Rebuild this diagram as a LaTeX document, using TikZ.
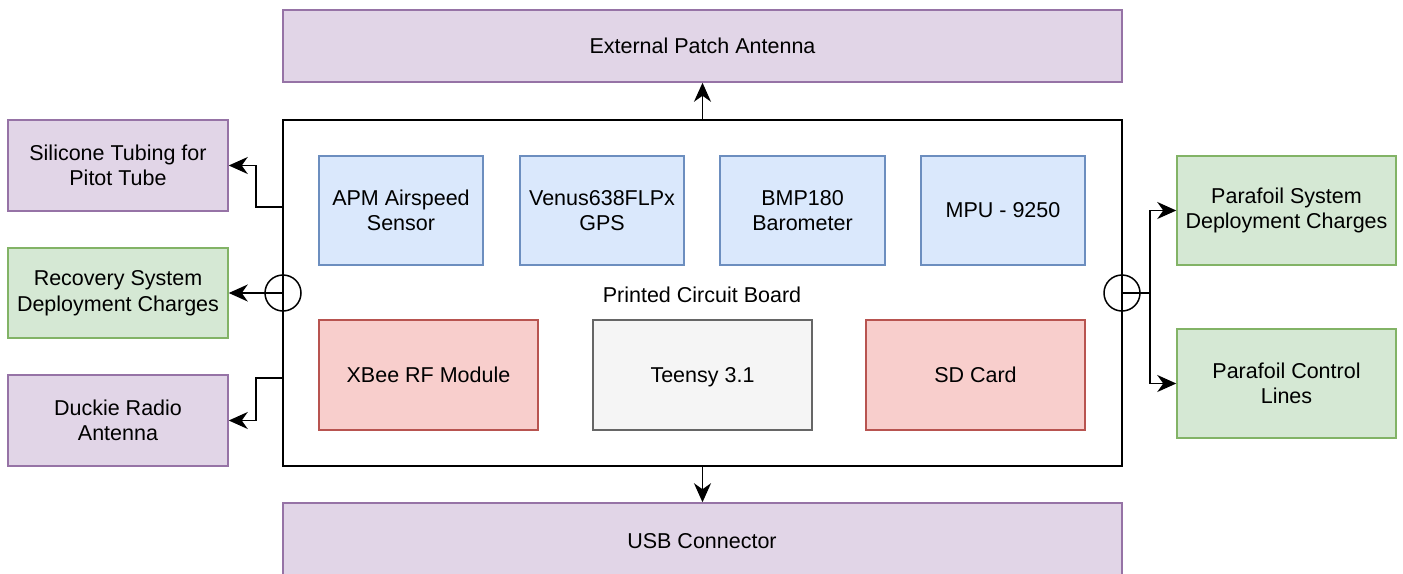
\documentclass[tikz,border=0pt]{standalone}
\usepackage{fontspec}
\setmainfont{Liberation Sans}
\usetikzlibrary{arrows.meta}
\definecolor{pfill}{HTML}{E1D5E7}\definecolor{pdraw}{HTML}{9673A6}
\definecolor{gfill}{HTML}{D5E8D4}\definecolor{gdraw}{HTML}{82B366}
\definecolor{bfill}{HTML}{DAE8FC}\definecolor{bdraw}{HTML}{6C8EBF}
\definecolor{rfill}{HTML}{F8CECC}\definecolor{rdraw}{HTML}{B85450}
\definecolor{kfill}{HTML}{F5F5F5}\definecolor{kdraw}{HTML}{666666}
\begin{document}
\begin{tikzpicture}[x=1pt,y=-1pt,
  txt/.style={font=\fontsize{21.5}{25.5}\selectfont, text=black},
  box/.style={draw, line width=1.5pt, align=center, inner sep=0pt, txt},
  pbox/.style={box, fill=pfill, draw=pdraw},
  gbox/.style={box, fill=gfill, draw=gdraw},
  bbox/.style={box, fill=bfill, draw=bdraw},
  rbox/.style={box, fill=rfill, draw=rdraw},
  kbox/.style={box, fill=kfill, draw=kdraw},
  conn/.style={draw, line width=1.6pt, -{Stealth[length=19pt,width=17pt,inset=6pt]}},
  ring/.style={circle, draw, line width=1.5pt, minimum size=36pt, inner sep=0pt}]
\clip (0,0) rectangle (1403,573);
\fill[white] (0,0) rectangle (1403,573);
% PCB
\node[box, fill=white, draw=black, minimum width=839pt, minimum height=346pt] (pcb) at (702.5,293) {};
\node[txt] (pcblabel) at (702,295) {Printed Circuit Board};
% top and bottom
\node[pbox, minimum width=839pt, minimum height=72pt] (ext) at (702.5,46) {External Patch Antenna};
\node[pbox, minimum width=839pt, minimum height=100pt] (usb) at (702.5,553) {};
\node[txt] (usbt) at (702,541) {USB Connector};
% left
\node[pbox, minimum width=220pt, minimum height=91pt] (sil) at (118,165.5) {Silicone Tubing for\\Pitot Tube};
\node[gbox, minimum width=220pt, minimum height=90pt] (rec) at (118,293) {Recovery System\\Deployment Charges};
\node[pbox, minimum width=220pt, minimum height=91pt] (duck) at (118,420.5) {Duckie Radio\\Antenna};
% right
\node[gbox, minimum width=219pt, minimum height=109pt] (pss) at (1286.5,210.5) {Parafoil System\\Deployment Charges};
\node[gbox, minimum width=219pt, minimum height=109pt] (pcl) at (1286.5,383.5) {Parafoil Control\\Lines};
% inner components
\node[bbox, minimum width=164pt, minimum height=109pt] (apm) at (401,210.5) {APM Airspeed\\Sensor};
\node[bbox, minimum width=164pt, minimum height=109pt] (gps) at (602,210.5) {Venus638FLPx\\GPS};
\node[bbox, minimum width=165pt, minimum height=109pt] (bmp) at (802.5,210.5) {BMP180\\Barometer};
\node[bbox, minimum width=164pt, minimum height=109pt] (mpu) at (1003,210.5) {MPU - 9250};
\node[rbox, minimum width=219pt, minimum height=110pt] (xbee) at (428.5,375) {XBee RF Module};
\node[kbox, minimum width=219pt, minimum height=110pt] (teensy) at (702.5,375) {};
\node[txt] (teensyt) at (702.5,377) {Teensy 3.1};
\node[rbox, minimum width=219pt, minimum height=110pt] (sd) at (975.5,375) {SD Card};
% rings
\node[ring] (lring) at (283,293) {};
\node[ring] (rring) at (1122,293) {};
% connectors
\coordinate (l1) at (283,207);
\coordinate (l3) at (283,378);
\coordinate (rj) at (1150,293);
\draw[conn] (l1) -| (256,207) |- (sil.east);
\draw[conn] (lring.center) -- (rec.east);
\draw[conn] (l3) -| (256,378) |- (duck.east);
\draw[conn] (rring.center) -- (rj) |- (pss.west);
\draw[conn] (rj) |- (pcl.west);
\draw[conn] (pcb.north) -- (ext.south);
\draw[conn] (pcb.south) -- (usb.north);
\end{tikzpicture}
\end{document}
